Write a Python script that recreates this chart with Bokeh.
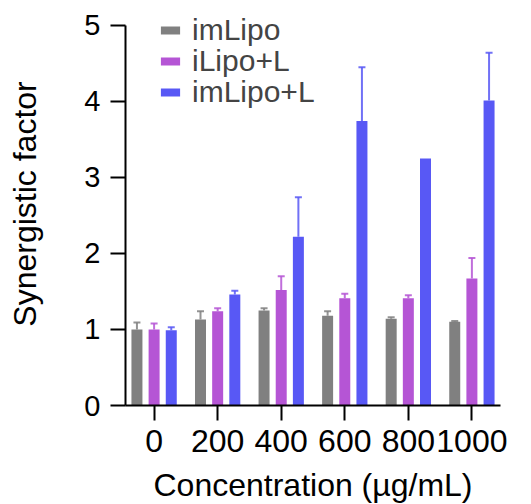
from bokeh.plotting import figure
from bokeh.models import ColumnDataSource, FixedTicker, Whisker, TeeHead, Legend, LegendItem
from bokeh.transform import dodge
from bokeh.embed import file_html
from bokeh.resources import INLINE

concentrations = ["0", "200", "400", "600", "800", "1000"]
series = ["imLipo", "iLipo+L", "imLipo+L"]
imlipo = [1.00, 1.13, 1.25, 1.18, 1.14, 1.10]
imlipo_err = [0.09, 0.11, 0.03, 0.06, 0.02, 0.01]
ilipo_l = [1.00, 1.24, 1.52, 1.41, 1.41, 1.67]
ilipo_l_err = [0.08, 0.04, 0.18, 0.06, 0.04, 0.27]
imlipo_l = [0.99, 1.46, 2.22, 3.74, 3.25, 4.01]
imlipo_l_err = [0.04, 0.05, 0.52, 0.71, 0.0, 0.63]
colors = ["#808080", "#B555D5", "#5858F5"]

FONT = "Liberation Sans"

p = figure(frame_width=375, frame_height=403, output_backend="svg", toolbar_location=None,
           x_range=(-0.45, 5.45), y_range=(0, 5.3),
           min_border_left=125, min_border_right=25, min_border_top=2, min_border_bottom=20)
p.xgrid.visible = False
p.ygrid.visible = False
p.outline_line_color = None

offsets = [-0.27, 0.0, 0.27]
values = [imlipo, ilipo_l, imlipo_l]
errors = [imlipo_err, ilipo_l_err, imlipo_l_err]
legend_y = [355, 324, 293]
for name, vals, errs, col, off, ly in zip(series, values, errors, colors, offsets, legend_y):
    src = ColumnDataSource(dict(x=list(range(len(concentrations))), top=vals))
    r = p.vbar(x=dodge("x", off), top="top", width=0.173, source=src,
               fill_color=col, line_color=None)
    idx = [i for i, e in enumerate(errs) if e > 0]
    wsrc = ColumnDataSource(dict(x=idx, lower=[vals[i] for i in idx],
                                 upper=[vals[i] + errs[i] for i in idx]))
    w = Whisker(source=wsrc, base=dodge("x", off), upper="upper", lower="lower",
                dimension="height", line_color=col, line_width=2, line_alpha=0.85,
                upper_head=TeeHead(size=7, line_color=col, line_width=2, line_alpha=0.85),
                lower_head=None)
    p.add_layout(w)
    lg = Legend(items=[LegendItem(label=name, renderers=[r])], location=(33, ly),
                glyph_width=24, glyph_height=10,
                label_text_font=FONT, label_text_font_size="30px", label_standoff=10,
                spacing=0, padding=0, margin=0, border_line_color=None,
                background_fill_alpha=0, label_height=40)
    p.add_layout(lg)

p.xaxis.ticker = FixedTicker(ticks=list(range(len(concentrations))))
p.xaxis.major_label_overrides = {i: c for i, c in enumerate(concentrations)}
p.yaxis.ticker = FixedTicker(ticks=[0, 1, 2, 3, 4, 5])
p.yaxis.bounds = (0, 5)

for ax in (p.xaxis[0], p.yaxis[0]):
    ax.axis_line_width = 2
    ax.major_tick_line_width = 2
    ax.major_tick_in = 0
    ax.major_tick_out = 15
    ax.minor_tick_line_color = None
    ax.major_label_text_font = FONT
    ax.major_label_text_color = "black"
    ax.axis_label_text_font = FONT
    ax.axis_label_text_font_size = "32px"
    ax.axis_label_text_font_style = "normal"
    ax.axis_label_text_color = "black"
    ax.axis_line_color = "black"
    ax.major_tick_line_color = "black"

p.xaxis.major_label_text_font_size = "32px"
p.yaxis.major_label_text_font_size = "29px"
p.xaxis.axis_label = "Concentration (µg/mL)"
p.yaxis.axis_label = "Synergistic factor"
p.xaxis.major_label_standoff = 9
p.yaxis.major_label_standoff = 10
p.xaxis.axis_label_standoff = 12
p.yaxis.axis_label_standoff = 38

open("out.html", "w").write(file_html(p, INLINE))
